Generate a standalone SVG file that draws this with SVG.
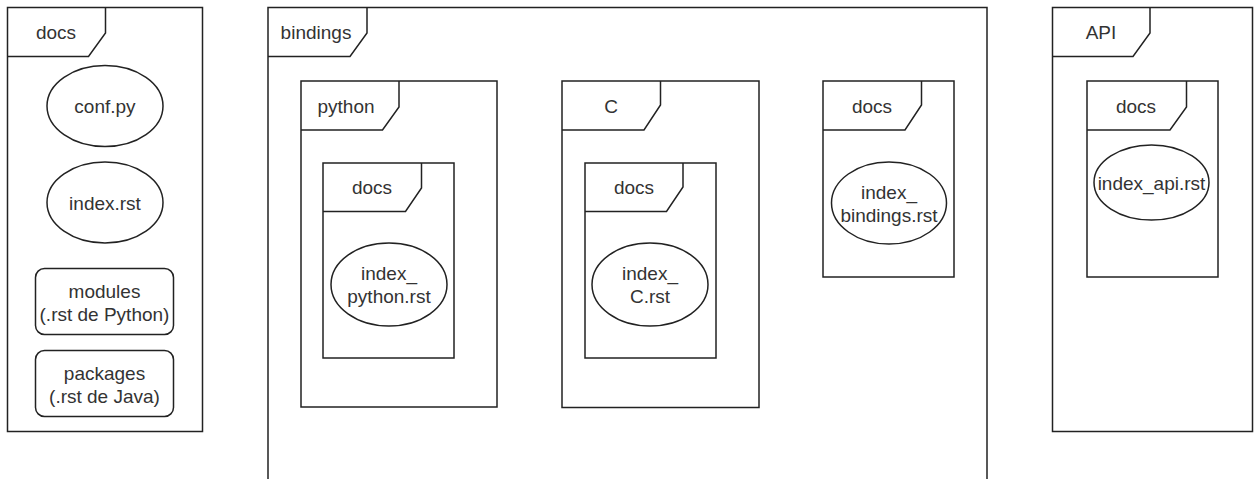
<svg xmlns="http://www.w3.org/2000/svg" width="1255" height="479" viewBox="0 0 1255 479">
<style>
.f{fill:#fff;stroke:#222;stroke-width:1.5}
.t{fill:none;stroke:#222;stroke-width:1.5}
text{font-family:"Liberation Sans",Arial,sans-serif;font-size:19px;fill:#333;text-anchor:middle}
</style>
<rect width="1255" height="479" fill="#fff"/>
<g id="frame-docs">
<rect class="f" x="7.5" y="7.5" width="195" height="424"/>
<path class="t" d="M7.5 56.5H88.5L105.5 33V7.5"/>
<text x="56" y="39">docs</text>
</g>
<g id="conf-py">
<ellipse class="f" cx="105" cy="106" rx="58" ry="40.5"/>
<text x="105" y="113">conf.py</text>
</g>
<g id="index-rst">
<ellipse class="f" cx="105" cy="202.5" rx="58" ry="40.5"/>
<text x="105" y="209.5">index.rst</text>
</g>
<g id="modules">
<rect class="f" x="35.5" y="268.5" width="138" height="66" rx="9"/>
<text x="104.5" y="298">modules</text>
<text x="104.5" y="321">(.rst de Python)</text>
</g>
<g id="packages">
<rect class="f" x="35.5" y="350.5" width="138" height="66" rx="9"/>
<text x="104.5" y="380">packages</text>
<text x="104.5" y="403">(.rst de Java)</text>
</g>
<g id="frame-bindings">
<path class="t" d="M268 479V7.5H987V479"/>
<path class="t" d="M268 56.5H350L367 33V7.5"/>
<text x="316" y="39">bindings</text>
</g>
<g id="frame-python">
<rect class="f" x="301" y="81" width="196" height="326"/>
<path class="t" d="M301 130H382.5L399 107V81"/>
<text x="346" y="113">python</text>
</g>
<g id="python-docs">
<rect class="f" x="323" y="163" width="131" height="195"/>
<path class="t" d="M323 211.5H405.5L421.5 188V163"/>
<text x="372" y="194">docs</text>
</g>
<g id="index-python">
<ellipse class="f" cx="389" cy="284.5" rx="58" ry="41.5"/>
<text x="389" y="280">index_</text>
<text x="389" y="303">python.rst</text>
</g>
<g id="frame-c">
<rect class="f" x="562" y="81" width="197" height="326.5"/>
<path class="t" d="M562 130H644L660.5 105V81"/>
<text x="611" y="113">C</text>
</g>
<g id="c-docs">
<rect class="f" x="585" y="163" width="131" height="195"/>
<path class="t" d="M585 211.5H666.5L683 187V163"/>
<text x="634" y="194">docs</text>
</g>
<g id="index-c">
<ellipse class="f" cx="650" cy="284.5" rx="58" ry="41.5"/>
<text x="650" y="280">index_</text>
<text x="650" y="303">C.rst</text>
</g>
<g id="bindings-docs">
<rect class="f" x="823" y="81" width="131" height="196"/>
<path class="t" d="M823 130H905L921.5 105V81"/>
<text x="872" y="113">docs</text>
</g>
<g id="index-bindings">
<ellipse class="f" cx="889" cy="203" rx="57.5" ry="41"/>
<text x="889" y="198.5">index_</text>
<text x="889" y="221.5">bindings.rst</text>
</g>
<g id="frame-api">
<rect class="f" x="1052.5" y="7.5" width="200" height="424"/>
<path class="t" d="M1052.5 56.5H1133L1150 33V7.5"/>
<text x="1101" y="39">API</text>
</g>
<g id="api-docs">
<rect class="f" x="1087" y="81" width="131" height="196"/>
<path class="t" d="M1087 130H1170L1186.5 107V81"/>
<text x="1136" y="113">docs</text>
</g>
<g id="index-api">
<ellipse class="f" cx="1151.5" cy="182.5" rx="57.5" ry="37.5"/>
<text x="1151.5" y="189.5">index_api.rst</text>
</g>
<g id="connectors"/>
</svg>
